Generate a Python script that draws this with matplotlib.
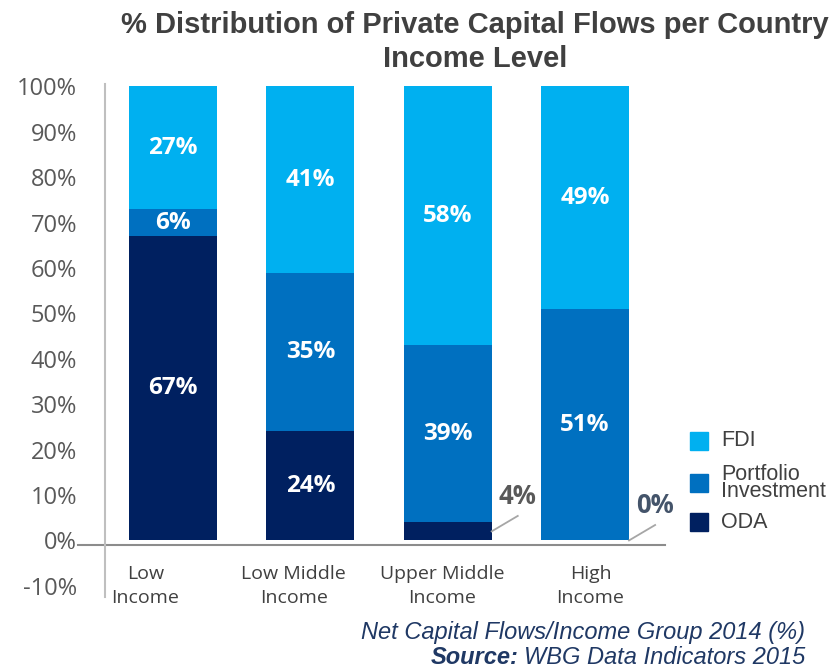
import matplotlib
matplotlib.use("Agg")
import matplotlib.pyplot as plt
import matplotlib.transforms as mtransforms
from matplotlib.patches import Rectangle

categories = ["Low\nIncome", "Low Middle\nIncome", "Upper Middle\nIncome", "High\nIncome"]
oda = [67, 24, 4, 0]
portfolio = [6, 35, 39, 51]
fdi = [27, 41, 58, 49]
series_names = ["FDI", "Portfolio\nInvestment", "ODA"]
yticks = [-10, 0, 10, 20, 30, 40, 50, 60, 70, 80, 90, 100]

c_fdi = "#00B0F0"
c_pi = "#0070C0"
c_oda = "#002060"

fig = plt.figure(figsize=(8.33, 6.68), dpi=100)
ax = fig.add_axes([0.126, 0.106, 0.672, 0.768])

x = list(range(len(categories)))
w = 0.64
ax.bar(x, oda, width=w, color=c_oda)
ax.bar(x, portfolio, width=w, bottom=oda, color=c_pi)
bottom_fdi = [a + b for a, b in zip(oda, portfolio)]
top = [100] * len(x)
ax.bar(x, [t - b for t, b in zip(top, bottom_fdi)], width=w, bottom=bottom_fdi, color=c_fdi)

lab_font = dict(family=["Open Sans", "DejaVu Sans"], fontsize=17.5, fontweight="bold", color="white",
                ha="center", va="center")
for i in x:
    ax.text(i, bottom_fdi[i] + (100 - bottom_fdi[i]) / 2, f"{fdi[i]}%", **lab_font)
    ax.text(i, oda[i] + portfolio[i] / 2, f"{portfolio[i]}%", **lab_font)
    if oda[i] > 10:
        ax.text(i, oda[i] / 2, f"{oda[i]}%", **lab_font)

# small ODA values called out beside the bars
call_colors = {2: "#595959", 3: "#44546A"}
for i in x:
    if oda[i] < 10:
        x0 = i + w / 2
        y0 = oda[i] / 2
        ax.plot([x0, x0 + 0.19], [y0, y0 + 3.4], color="#A6A6A6", lw=1.3, clip_on=False)
        ax.text(x0 + 0.19, y0 + 7.7, f"{oda[i]}%", fontsize=18.5, fontweight="bold",
                family=["Open Sans", "DejaVu Sans"], color=call_colors[i], ha="center", va="center")

ax.set_xlim(-0.495, 3.58)
ax.set_ylim(-12.5, 100.5)
ax.set_yticks(yticks)
ax.set_yticklabels([f"{v}%" for v in yticks], family=["Open Sans", "DejaVu Sans"],
                   fontsize=17, color="#595959")
ax.tick_params(axis="y", length=0, pad=20)
ax.set_xticks([])
for s in ["top", "right", "bottom"]:
    ax.spines[s].set_visible(False)
ax.spines["left"].set_color("#BFBFBF")
ax.spines["left"].set_linewidth(1.5)

# zero baseline extends left toward the tick label
trans = mtransforms.blended_transform_factory(ax.transAxes, ax.transData)
ax.plot([-0.048, 1.0], [-1, -1], transform=trans, color="#8C8C8C", lw=1.5, clip_on=False)

# category labels
for i, c in enumerate(categories):
    ax.text(-0.2 + 1.08 * i, -5.4, c, ha="center", va="top", fontsize=14,
            family=["Open Sans", "DejaVu Sans"], color="#404040", linespacing=1.45)

# legend
leg_colors = [c_fdi, c_pi, c_oda]
leg_y = [441, 483, 522]
for name, col, yp in zip(series_names, leg_colors, leg_y):
    fy = 1 - yp / 668
    fig.patches.append(Rectangle((690 / 833, fy - 9 / 668), 18 / 833, 18 / 668,
                                 transform=fig.transFigure, color=col))
    fig.text(721 / 833, fy, name, fontsize=15.5, family=["Liberation Sans", "DejaVu Sans"],
             color="#404040", va="center", ha="left", linespacing=0.72)

# title
fig.text(475 / 833, 1 - 42 / 668, "% Distribution of Private Capital Flows per Country\nIncome Level",
         ha="center", va="center", fontsize=21, fontweight="bold",
         family=["Liberation Sans Narrow", "Liberation Sans", "DejaVu Sans"], color="#404040",
         linespacing=1.3)

# footnotes
foot = dict(fontsize=17, style="italic", family=["Liberation Sans", "DejaVu Sans"], color="#1F3864",
            va="center")
fig.text(805 / 833, 1 - 633 / 668, "Net Capital Flows/Income Group 2014 (%)", ha="right", **foot)
t1 = fig.text(805 / 833, 1 - 658 / 668, "WBG Data Indicators 2015", ha="right", **foot)
fig.canvas.draw()
bb = t1.get_window_extent()
fig.text(bb.x0 / (8.33 * 100) - 0.006, 1 - 658 / 668, "Source:", ha="right", fontweight="bold", **foot)

fig.savefig("out.png", dpi=100)
